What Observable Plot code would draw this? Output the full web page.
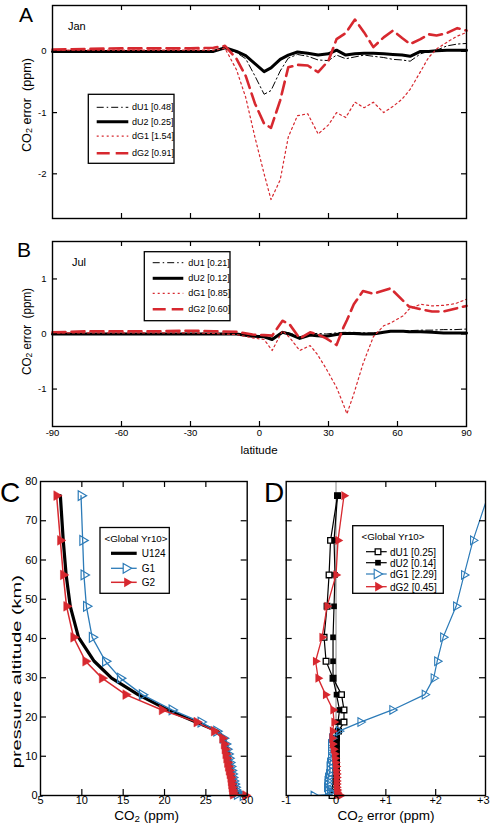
<!DOCTYPE html>
<html><head><meta charset="utf-8">
<script src="https://cdn.jsdelivr.net/npm/d3@7"></script>
<script src="https://cdn.jsdelivr.net/npm/@observablehq/plot@0.6"></script>
<style>
body{margin:0;background:#fff;}
#wrap{position:relative;width:490px;height:824px;overflow:hidden;background:#fff;}
.panel{position:absolute;}
.panel svg{overflow:visible;}
#overlay{position:absolute;left:0;top:0;pointer-events:none;}
</style></head><body><div id="wrap"></div>
<script>
const RED = "#d7282f", BLUE = "#2c7bb8";
const FONT = '"Liberation Sans", Arial, Helvetica, sans-serif';

// ---------- Panel A (Jan) ----------
const latA = [-90,-75,-60,-45,-30,-20,-15,-10,-6,-2,2,5,9,12.5,16.5,21,25.5,30,33.5,37.5,41.5,45.5,49.5,54,58,62,65.5,70,73.5,77,81.5,86,90];
const janU1 = [0.01,0.01,0.01,0.01,0.01,0.01,0.05,-0.02,-0.12,-0.4,-0.7,-0.64,-0.32,-0.11,-0.05,-0.08,-0.14,-0.15,-0.06,-0.12,-0.09,-0.06,-0.08,-0.1,-0.13,-0.14,-0.16,-0.04,0.0,0.02,0.09,0.12,0.13];
const janU2 = [0,0,0,0,0,0,0.06,0.0,-0.07,-0.2,-0.33,-0.27,-0.13,-0.06,-0.01,-0.03,-0.06,-0.04,0.02,-0.06,-0.04,-0.03,-0.03,-0.04,-0.05,-0.06,-0.08,0.0,0.0,0.01,0.02,0.02,0.02];
const janG1 = [0.02,0.02,0.02,0.02,0.02,0.02,0.05,-0.3,-0.75,-1.4,-2.0,-2.42,-2.1,-1.4,-1.05,-1.02,-1.35,-1.2,-1.0,-1.08,-0.83,-0.92,-0.83,-1.0,-0.9,-0.78,-0.62,-0.33,-0.1,0.04,0.15,0.25,0.31];
const janG2 = [0.03,0.04,0.05,0.05,0.05,0.06,0.09,-0.12,-0.4,-0.85,-1.18,-1.25,-0.8,-0.26,-0.22,-0.23,-0.34,-0.15,0.2,0.3,0.52,0.31,0.07,0.23,0.34,0.22,0.12,0.2,0.28,0.26,0.3,0.38,0.34];
const janLegend = ["dU1 [0.48]","dU2 [0.25]","dG1 [1.54]","dG2 [0.91]"];

// ---------- Panel B (Jul) ----------
const latB = [-90,-75,-60,-45,-30,-20,-10,-3,2,5.5,10,13,17.5,22,25,29,33.5,36.5,38,41,45,49.5,54,57,62.5,65,70,75,80,85,90];
const julU1 = [0.01,0.01,0.01,0.01,0.01,0.01,0.01,-0.03,-0.04,-0.08,0.04,0.02,-0.05,0.0,0.01,0.0,0.02,0.03,0.03,0.03,0.02,0.02,0.04,0.05,0.06,0.06,0.07,0.07,0.08,0.08,0.09];
const julU2 = [0,0,0,0,0,0,0,-0.04,-0.05,-0.1,0.03,0.0,-0.08,-0.02,-0.03,-0.04,-0.01,0.01,0.01,0.01,0.0,0.0,0.03,0.05,0.05,0.04,0.04,0.03,0.02,0.02,0.02];
const julG1 = [0.02,0.02,0.02,0.02,0.02,0.01,-0.01,-0.07,-0.1,-0.3,0.06,-0.06,-0.3,-0.21,-0.36,-0.63,-0.97,-1.28,-1.45,-1.09,-0.54,-0.05,0.15,0.2,0.33,0.45,0.54,0.51,0.52,0.55,0.63];
const julG2 = [0.03,0.05,0.05,0.05,0.06,0.05,0.04,-0.01,-0.02,-0.03,0.24,0.18,-0.08,0.03,0.0,-0.08,-0.2,0.12,0.25,0.54,0.78,0.73,0.79,0.83,0.6,0.5,0.45,0.41,0.41,0.46,0.51];
const julLegend = ["dU1 [0.21]","dU2 [0.12]","dG1 [0.85]","dG2 [0.60]"];

const latTicks = [-90,-60,-30,0,30,60,90];

// ---------- Panels C, D (global year 10 profiles) ----------
const altLevels = [76.4,65.0,56.2,48.2,40.3,34.2,29.9,25.7,21.8,18.7,16.4,14.6,13.1,11.8,10.6,9.5,8.4,7.4,6.4,5.5,4.6,3.7,2.9,2.1,1.4,0.8,0.3,0];
const profU124 = [7.4,7.75,8.1,8.6,9.6,11.5,13.6,16.8,20.4,23.8,26.4,27.2,27.45,27.6,27.75,27.85,27.95,28.05,28.15,28.25,28.35,28.45,28.55,28.65,28.7,28.8,28.9,29.5];
const profG1 = [9.9,10.1,10.25,10.55,11.25,12.85,14.65,17.3,20.9,24.4,26.3,27.1,27.35,27.5,27.65,27.75,27.85,27.95,28.05,28.15,28.2,28.3,28.4,28.5,28.55,28.65,28.8,29.5];
const profG2 = [6.95,7.4,7.75,8.15,9.0,10.45,12.45,15.3,19.7,23.9,26.0,27.0,27.2,27.3,27.4,27.5,27.6,27.7,27.8,27.9,28.0,28.05,28.1,28.15,28.2,28.25,28.3,29.8];
const profLegend = ["U124","G1","G2"];
const errU1 = [0.03,-0.11,-0.14,-0.18,-0.24,-0.2,-0.06,0.11,0.16,0.16,0.05,0.01,0,0,0,0,0,0,0,0,0,0,0,-0.01,-0.02,-0.03,-0.04,-0.08];
const errU2 = [0.03,-0.04,-0.02,-0.04,-0.06,-0.06,-0.06,0.01,0.07,0.04,0.03,0.02,0.02,0.02,0.02,0.02,0.02,0.02,0.02,0.02,0.02,0.02,0.02,0.02,0.02,0.02,0.02,0.02];
const errG1 = [3.05,2.75,2.57,2.41,2.15,2.03,1.96,1.78,1.13,0.49,0.06,-0.08,-0.1,-0.1,-0.1,-0.1,-0.12,-0.13,-0.12,-0.14,-0.16,-0.17,-0.17,-0.18,-0.16,-0.12,-0.08,-0.45];
const errG2 = [0.16,0.04,0.0,-0.18,-0.28,-0.41,-0.36,-0.21,-0.06,-0.04,-0.07,-0.08,-0.07,-0.05,-0.03,-0.02,-0.01,0,0,0.01,0.01,0.01,0.01,0.01,0.02,0.02,0.03,0.09];
const errLegend = ["dU1 [0.25]","dU2 [0.14]","dG1 [2.29]","dG2 [0.45]"];

// line styles for the latitude panels
const latStyles = [
  {stroke:"black", strokeWidth:1, dash:"7,3,1.5,3"},
  {stroke:"black", strokeWidth:3, dash:null},
  {stroke:RED, strokeWidth:1.2, dash:"2,3"},
  {stroke:RED, strokeWidth:2.6, dash:"13,6"}
];

const wrap = document.getElementById("wrap");
function place(node, left, top) {
  const d = document.createElement("div");
  d.className = "panel"; d.style.left = left + "px"; d.style.top = top + "px";
  d.appendChild(node); wrap.appendChild(d);
}

function innerTicks(xT, yT, pw, ph, L=5) {
  const m = [];
  if (yT) {
    m.push(Plot.tickY(yT, {y: d => d, insetRight: pw - L, stroke: "black", strokeWidth: 1.2}));
    m.push(Plot.tickY(yT, {y: d => d, insetLeft: pw - L, stroke: "black", strokeWidth: 1.2}));
  }
  if (xT) {
    m.push(Plot.tickX(xT, {x: d => d, insetBottom: ph - L, stroke: "black", strokeWidth: 1.2}));
    m.push(Plot.tickX(xT, {x: d => d, insetTop: ph - L, stroke: "black", strokeWidth: 1.2}));
  }
  return m;
}

function latPanel({lat, series, yDomain, yTicks, height, mT, mB, showX}) {
  const W = 490, mL = 52, mR = 24;
  const pw = W - mL - mR, ph = height - mT - mB;
  const marks = series.map((vals, k) => Plot.line(lat.map((x, i) => ({x, y: vals[i]})), {
    x: "x", y: "y", stroke: latStyles[k].stroke, strokeWidth: latStyles[k].strokeWidth,
    strokeDasharray: latStyles[k].dash, strokeLinejoin: "round"
  }));
  marks.push(...innerTicks([-60,-30,0,30,60], yTicks, pw, ph));
  marks.push(Plot.frame({stroke: "black", strokeWidth: 1.4}));
  marks.push(Plot.axisY(yTicks, {tickSize: 0, tickPadding: 6, fontSize: 9.5, tickFormat: d => String(d), label: null}));
  if (showX) marks.push(Plot.axisX(latTicks, {tickSize: 0, tickPadding: 3, fontSize: 9.5, tickFormat: d => String(d), label: null}));
  return Plot.plot({
    width: W, height, marginTop: mT, marginBottom: mB, marginLeft: mL, marginRight: mR,
    x: {domain: [-90, 90], axis: showX ? undefined : null, label: null},
    y: {domain: yDomain, label: null},
    style: {fontFamily: FONT, fontSize: "9.5px", color: "black", background: "transparent", overflow: "visible"},
    marks
  });
}

place(latPanel({lat: latA, series: [janU1, janU2, janG1, janG2], yDomain: [-2.73, 0.75], yTicks: [0,-1,-2], height: 222, mT: 5, mB: 4, showX: false}), 0, 0);
place(latPanel({lat: latB, series: [julU1, julU2, julG1, julG2], yDomain: [-1.68, 1.68], yTicks: [1,0,-1], height: 230, mT: 5, mB: 40, showX: true}), 0, 236);

// Panel C
(function(){
  const W = 260, H = 340, mT = 11, mB = 15, mL = 40, mR = 13.3;
  const pw = W - mL - mR, ph = H - mT - mB;
  const pts = vals => altLevels.map((a, i) => ({x: vals[i], y: a}));
  const marks = [
    Plot.line(pts(profU124), {x: "x", y: "y", stroke: "black", strokeWidth: 3.2, strokeLinejoin: "round"}),
    Plot.line(pts(profG1), {x: "x", y: "y", stroke: BLUE, strokeWidth: 1.3}),
    Plot.dot(pts(profG1), {x: "x", y: "y", symbol: "triangle", rotate: 90, r: 3.6, stroke: BLUE, strokeWidth: 1.2, fill: "none"}),
    Plot.line(pts(profG2), {x: "x", y: "y", stroke: RED, strokeWidth: 1.5}),
    Plot.dot(pts(profG2), {x: "x", y: "y", symbol: "triangle", rotate: 90, r: 3.6, fill: RED, stroke: RED, strokeWidth: 0.5}),
    ...innerTicks([10,15,20,25], [10,20,30,40,50,60,70], pw, ph, 6),
    Plot.frame({stroke: "black", strokeWidth: 1.4}),
    Plot.axisY([0,10,20,30,40,50,60,70,80], {tickSize: 0, tickPadding: 3, fontSize: 11, label: null}),
    Plot.axisX([5,10,15,20,25,30], {tickSize: 0, tickPadding: 1, fontSize: 11, label: null})
  ];
  place(Plot.plot({
    width: W, height: H, marginTop: mT, marginBottom: mB, marginLeft: mL, marginRight: mR,
    x: {domain: [5, 30], label: null}, y: {domain: [0, 80], label: null},
    style: {fontFamily: FONT, fontSize: "11px", color: "black", background: "transparent", overflow: "visible"},
    marks
  }), 0, 470);
})();

// Panel D
(function(){
  const W = 230, H = 340, mT = 11, mB = 15, mL = 25.7, mR = 5;
  const pw = W - mL - mR, ph = H - mT - mB;
  const pts = vals => altLevels.map((a, i) => ({x: vals[i], y: a}));
  const fmt = d => d > 0 ? "+" + d : String(d);
  const marks = [
    Plot.ruleX([0], {stroke: "#b0b0b0", strokeWidth: 1.5}),
    Plot.line(pts(errU1), {x: "x", y: "y", stroke: "black", strokeWidth: 1.2}),
    Plot.dot(pts(errU1), {x: "x", y: "y", symbol: "square", r: 3.2, stroke: "black", strokeWidth: 1.3, fill: "white"}),
    Plot.line(pts(errU2), {x: "x", y: "y", stroke: "black", strokeWidth: 1.2}),
    Plot.dot(pts(errU2), {x: "x", y: "y", symbol: "square", r: 3.2, fill: "black"}),
    Plot.line(pts(errG1), {x: "x", y: "y", stroke: BLUE, strokeWidth: 1.2, clip: true}),
    Plot.dot(pts(errG1), {x: "x", y: "y", symbol: "triangle", rotate: 90, r: 3.2, stroke: BLUE, strokeWidth: 1.1, fill: "none", clip: true}),
    Plot.line(pts(errG2), {x: "x", y: "y", stroke: RED, strokeWidth: 1.3}),
    Plot.dot(pts(errG2), {x: "x", y: "y", symbol: "triangle", rotate: 90, r: 3.4, fill: RED}),
    ...innerTicks([1,2], [10,20,30,40,50,60,70], pw, ph, 6),
    Plot.frame({stroke: "black", strokeWidth: 1.4}),
    Plot.axisX([-1,0,1,2], {tickSize: 0, tickPadding: 1, fontSize: 11, label: null, tickFormat: fmt}),
    Plot.axisX([3], {tickSize: 0, tickPadding: 1, fontSize: 11, label: null, tickFormat: fmt, textAnchor: "end", dx: 4})
  ];
  place(Plot.plot({
    width: W, height: H, marginTop: mT, marginBottom: mB, marginLeft: mL, marginRight: mR,
    x: {domain: [-1, 3], label: null}, y: {domain: [0, 80], axis: null, label: null},
    style: {fontFamily: FONT, fontSize: "11px", color: "black", background: "transparent", overflow: "visible"},
    marks
  }), 260, 470);
})();

// ---------- Overlay: letters, titles, legends ----------
const ov = d3.create("svg").attr("id", "overlay").attr("width", 490).attr("height", 824)
  .attr("font-family", FONT);

function txt(x, y, parts, size, opts = {}) {
  const t = ov.append("text")
    .attr("transform", `translate(${x},${y})` + (opts.rotate ? ` rotate(${opts.rotate})` : ""))
    .attr("text-anchor", opts.anchor || "start")
    .attr("font-size", size).attr("fill", "black").style("white-space", "pre");
  if (opts.len) t.attr("textLength", opts.len).attr("lengthAdjust", "spacingAndGlyphs");
  if (opts.baseline) t.attr("dominant-baseline", opts.baseline);
  let shifted = false;
  for (const p of parts) {
    if (typeof p === "string") {
      t.append("tspan").attr("dy", shifted ? -size * 0.22 : 0).text(p);
      shifted = false;
    } else {
      t.append("tspan").attr("dy", size * 0.22).attr("font-size", size * 0.72).text(p.sub);
      shifted = true;
    }
  }
  return t;
}

// panel letters
txt(19, 21.7, ["A"], 21);
txt(17, 256.7, ["B"], 21);
txt(0, 501.7, ["C"], 28);
txt(264, 501.7, ["D"], 28);

// month labels
txt(68, 29.5, ["Jan"], 11);
txt(72, 265.5, ["Jul"], 11);

// axis titles
txt(26.7, 105, ["CO", {sub: "2"}, " error  (ppm)"], 12, {rotate: -90, anchor: "middle", baseline: "central", len: 94});
txt(26.7, 331.5, ["CO", {sub: "2"}, " error  (ppm)"], 12, {rotate: -90, anchor: "middle", baseline: "central", len: 87});
txt(259, 454, ["latitude"], 11.5, {anchor: "middle"});
txt(16.7, 671.7, ["pressure altitude (km)"], 12.2, {rotate: -90, anchor: "middle", baseline: "central", len: 193});
txt(146.7, 819.5, ["CO", {sub: "2"}, " (ppm)"], 13.5, {anchor: "middle"});
txt(386, 819.5, ["CO", {sub: "2"}, " error (ppm)"], 13.5, {anchor: "middle"});

function box(x0, y0, x1, y1) {
  ov.append("rect").attr("x", x0).attr("y", y0).attr("width", x1 - x0).attr("height", y1 - y0)
    .attr("fill", "white").attr("stroke", "black").attr("stroke-width", 1.3);
}
function sample(x0, x1, y, st) {
  ov.append("line").attr("x1", x0).attr("x2", x1).attr("y1", y).attr("y2", y)
    .attr("stroke", st.stroke).attr("stroke-width", st.strokeWidth)
    .attr("stroke-dasharray", st.dash);
}

// Legend A
box(88.3, 94.3, 174, 163.3);
[107.3, 121.7, 136.2, 153.3].forEach((y, i) => {
  sample(96.7, 128.3, y, latStyles[i]);
  txt(132, y, [janLegend[i]], 9, {baseline: "central"});
});
// Legend B
box(144.3, 251.7, 230, 320.7);
[262.7, 278.3, 293.3, 309.3].forEach((y, i) => {
  sample(152.7, 183.3, y, latStyles[i]);
  txt(188.3, y, [julLegend[i]], 9, {baseline: "central"});
});

// symbol helper
const triPath = d3.symbol(d3.symbolTriangle, Math.PI * 3.6 * 3.6)();
const sqPath = d3.symbol(d3.symbolSquare, Math.PI * 3.2 * 3.2)();

// Legend C
box(100, 527.5, 169.3, 593.3);
txt(136, 538, ["<Global Yr10>"], 9.8, {anchor: "middle", baseline: "central"});
sample(111, 136.7, 553.3, {stroke: "black", strokeWidth: 3.2});
txt(141.7, 553.3, [profLegend[0]], 10, {baseline: "central"});
sample(111, 136.7, 568.3, {stroke: BLUE, strokeWidth: 1.3});
ov.append("path").attr("d", triPath).attr("transform", "translate(126,568.3) rotate(90)").attr("fill", "white").attr("stroke", BLUE).attr("stroke-width", 1.2);
txt(141.7, 568.3, [profLegend[1]], 10, {baseline: "central"});
sample(111, 136.7, 582.3, {stroke: RED, strokeWidth: 1.5});
ov.append("path").attr("d", triPath).attr("transform", "translate(127,582.3) rotate(90)").attr("fill", RED);
txt(141.7, 582.3, [profLegend[2]], 10, {baseline: "central"});

// Legend D
box(352.7, 525.7, 443.3, 593.3);
txt(393, 535.5, ["<Global Yr10>"], 9.8, {anchor: "middle", baseline: "central"});
const dRows = [551.7, 562.7, 574, 586.7];
sample(366, 386.7, dRows[0], {stroke: "black", strokeWidth: 1.2});
ov.append("path").attr("d", sqPath).attr("transform", `translate(378,${dRows[0]})`).attr("fill", "white").attr("stroke", "black").attr("stroke-width", 1.3);
sample(366, 386.7, dRows[1], {stroke: "black", strokeWidth: 1.2});
ov.append("path").attr("d", sqPath).attr("transform", `translate(378,${dRows[1]})`).attr("fill", "black");
sample(366, 386.7, dRows[2], {stroke: BLUE, strokeWidth: 1.2});
ov.append("path").attr("d", triPath).attr("transform", `translate(377,${dRows[2]}) rotate(90)`).attr("fill", "white").attr("stroke", BLUE).attr("stroke-width", 1.1);
sample(366, 386.7, dRows[3], {stroke: RED, strokeWidth: 1.3});
ov.append("path").attr("d", triPath).attr("transform", `translate(378,${dRows[3]}) rotate(90)`).attr("fill", RED);
dRows.forEach((y, i) => txt(390, y, [errLegend[i]], 10, {baseline: "central"}));

wrap.appendChild(ov.node());
</script>
</body></html>
